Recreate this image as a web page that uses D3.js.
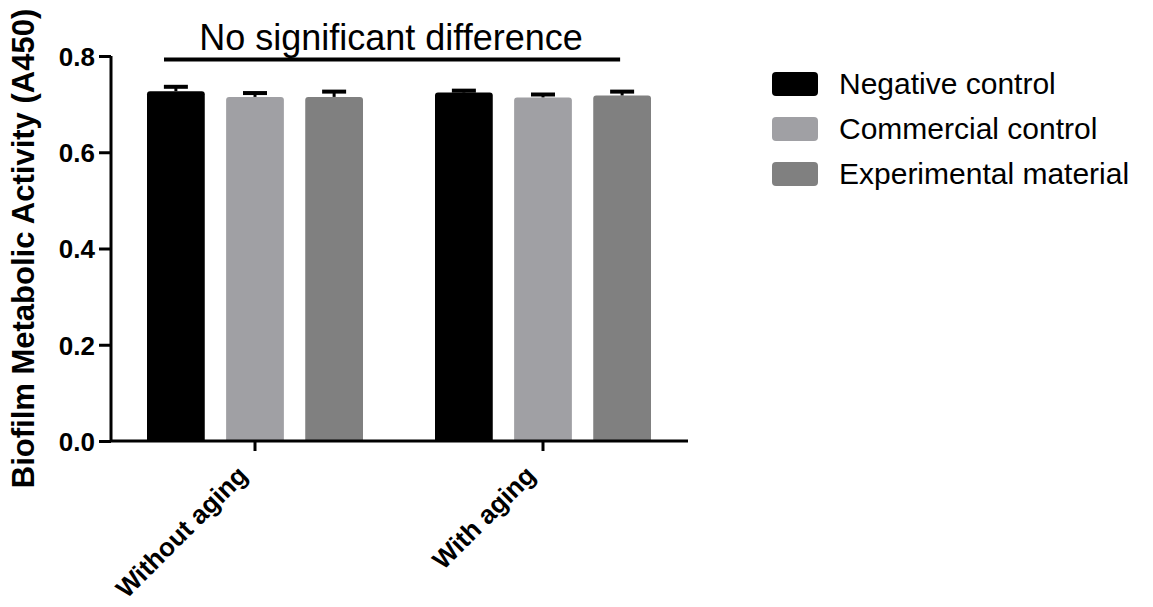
<!DOCTYPE html>
<html>
<head>
<meta charset="utf-8">
<script src="https://cdn.jsdelivr.net/npm/d3@7"></script>
<style>
  body { margin: 0; background: #fff; }
  svg { font-family: Arial, "Liberation Sans", sans-serif; }
</style>
</head>
<body>
<div id="chart"></div>
<script>
// data
const groups = ['Without aging', 'With aging'];
const series = ['Negative control', 'Commercial control', 'Experimental material'];
const negMean = [0.727, 0.724];
const comMean = [0.715, 0.714];
const expMean = [0.715, 0.718];
const negErr = [0.009, 0.004];
const comErr = [0.008, 0.006];
const expErr = [0.011, 0.008];
const yTicks = [0, 0.2, 0.4, 0.6, 0.8];
const colors = ['#000000', '#a0a0a4', '#808080'];

const means = [negMean, comMean, expMean];
const errs = [negErr, comErr, expErr];
const data = [];
groups.forEach((g, gi) => {
    series.forEach((s, si) => {
        data.push({group: g, series: s, value: means[si][gi], err: errs[si][gi]});
    });
});

const width = 1153, height = 607;
const margin = {top: 56, left: 111, right: 466, bottom: 166};
const graphWidth = width - margin.left - margin.right;
const graphHeight = height - margin.top - margin.bottom;

const svg = d3.select('#chart')
    .append('svg')
    .attr('width', width)
    .attr('height', height);

const graph = svg.append('g')
    .attr('transform', `translate(${margin.left}, ${margin.top})`);

// scales
const x0 = d3.scaleBand()
    .domain(groups)
    .range([0, graphWidth]);
const x1 = d3.scaleBand()
    .domain(series)
    .range([36, 252])
    .paddingInner(0.27);
const y = d3.scaleLinear()
    .domain([0, 0.8])
    .range([graphHeight, 0]);
const color = d3.scaleOrdinal().domain(series).range(colors);

// bars (slightly rounded top)
const bw = x1.bandwidth();
const r = 3;
graph.selectAll('path.bar')
    .data(data)
    .enter()
    .append('path')
    .attr('class', 'bar')
    .attr('fill', d => color(d.series))
    .attr('d', d => {
        const bx = x0(d.group) + x1(d.series);
        const by = y(d.value);
        const b = y(0);
        return `M${bx},${b} V${by + r} Q${bx},${by} ${bx + r},${by} H${bx + bw - r} Q${bx + bw},${by} ${bx + bw},${by + r} V${b} Z`;
    });

// error bars (upper only)
const capW = 24;
const err = graph.selectAll('g.err')
    .data(data)
    .enter()
    .append('g')
    .attr('class', 'err');
err.append('line')
    .attr('x1', d => x0(d.group) + x1(d.series) + bw / 2)
    .attr('x2', d => x0(d.group) + x1(d.series) + bw / 2)
    .attr('y1', d => y(d.value))
    .attr('y2', d => y(d.value + d.err))
    .attr('stroke', '#000')
    .attr('stroke-width', 3);
err.append('line')
    .attr('x1', d => x0(d.group) + x1(d.series) + bw / 2 - capW / 2)
    .attr('x2', d => x0(d.group) + x1(d.series) + bw / 2 + capW / 2)
    .attr('y1', d => y(d.value + d.err))
    .attr('y2', d => y(d.value + d.err))
    .attr('stroke', '#000')
    .attr('stroke-width', 4);

// axes
const yAxis = d3.axisLeft(y)
    .tickValues(yTicks)
    .tickFormat(d3.format('.1f'))
    .tickSize(12)
    .tickSizeOuter(0)
    .tickPadding(4);
const xAxis = d3.axisBottom(x0)
    .tickSize(10)
    .tickSizeOuter(0);

const yAxisGroup = graph.append('g').call(yAxis);
const xAxisGroup = graph.append('g')
    .attr('transform', `translate(0, ${graphHeight})`)
    .call(xAxis);

[yAxisGroup, xAxisGroup].forEach(g => {
    g.selectAll('path, line')
        .attr('stroke', '#000')
        .attr('stroke-width', 3);
    g.selectAll('text')
        .attr('fill', '#000')
        .attr('font-family', 'Arial, "Liberation Sans", sans-serif')
        .attr('font-weight', 'bold');
});
yAxisGroup.select('.domain').attr('d', `M0,0V${graphHeight}`);
yAxisGroup.selectAll('text')
    .attr('font-size', 26)
    .attr('dy', '0.36em');
xAxisGroup.select('.domain').attr('d', `M0,0H${graphWidth + 1}`);
xAxisGroup.selectAll('text')
    .attr('font-size', 26)
    .attr('text-anchor', 'end')
    .attr('y', 0)
    .attr('dy', 0)
    .attr('transform', 'translate(-6, 36) rotate(-45)');

// y axis title
svg.append('text')
    .attr('transform', `translate(34, ${margin.top + graphHeight / 2}) rotate(-90)`)
    .attr('text-anchor', 'middle')
    .attr('font-weight', 'bold')
    .attr('font-size', 31)
    .attr('fill', '#000')
    .text('Biofilm Metabolic Activity (A450)');

// significance annotation
const sx1 = margin.left + x0(groups[0]) + x1(series[0]) + 17;
const sx2 = margin.left + x0(groups[1]) + x1(series[2]) + bw / 2 - 2;
svg.append('line')
    .attr('x1', sx1)
    .attr('x2', sx2)
    .attr('y1', 59.5)
    .attr('y2', 59.5)
    .attr('stroke', '#000')
    .attr('stroke-width', 4);
svg.append('text')
    .attr('x', 391)
    .attr('y', 50)
    .attr('text-anchor', 'middle')
    .attr('font-size', 36)
    .attr('fill', '#000')
    .text('No significant difference');

// legend
const legend = svg.append('g')
    .attr('transform', 'translate(772, 72)');
const rows = legend.selectAll('g')
    .data(series)
    .enter()
    .append('g')
    .attr('transform', (d, i) => `translate(0, ${i * 45})`);
rows.append('rect')
    .attr('width', 46)
    .attr('height', 24)
    .attr('rx', 4)
    .attr('fill', d => color(d));
rows.append('text')
    .attr('x', 67)
    .attr('y', 22)
    .attr('font-size', 30)
    .attr('fill', '#000')
    .text(d => d);
</script>
</body>
</html>
